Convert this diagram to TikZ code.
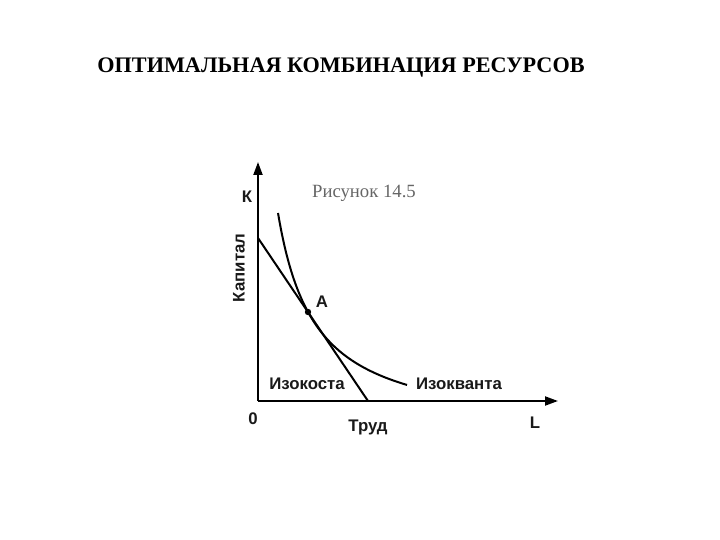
\documentclass[tikz,border=0pt]{standalone}
\usepackage{fontspec}
\setmainfont{Liberation Serif}
\newfontfamily\lsans{Liberation Sans}
\usetikzlibrary{arrows.meta}
\begin{document}
\begin{tikzpicture}[x=1pt,y=-1pt,
  axis/.style={line width=2pt,-{Triangle[length=13pt,width=9pt]}},
  curve/.style={line width=2pt},
  lbl/.style={font=\lsans\bfseries\fontsize{16.8}{18}\selectfont,text=black!90,inner sep=0pt}]
\useasboundingbox (0,0) rectangle (720,540);
\node[font=\bfseries\fontsize{22.2}{24}\selectfont,inner sep=0pt] (title) at (341,68) {ОПТИМАЛЬНАЯ КОМБИНАЦИЯ РЕСУРСОВ};
\coordinate (o) at (258,401);
\coordinate (ytop) at (258,162);
\coordinate (xend) at (558,401);
\draw[axis] (o) -- (ytop);
\draw[axis] (o) -- (xend);
\coordinate (c1) at (258,238);
\coordinate (c2) at (368,401);
\draw[curve] (c1) -- (c2);
\draw[curve] plot[domain=278:407,samples=80] (\x,{434.4-8215/(\x-240.9)});
\fill (308,312) circle (3.2pt);
\node[lbl] (A) at (322,302) {А};
\node[lbl] (K) at (247,197) {К};
\node[lbl,rotate=90] (kap) at (239,268) {Капитал};
\node[font=\fontsize{18.7}{20}\selectfont,text=black!60,inner sep=0pt] (fig) at (364,193) {Рисунок 14.5};
\node[lbl] (iso1) at (307,384) {Изокоста};
\node[lbl] (iso2) at (459,384) {Изокванта};
\node[lbl] (zero) at (253,419) {0};
\node[lbl] (trud) at (368,427) {Труд};
\node[lbl] (L) at (535,423) {L};
\end{tikzpicture}
\end{document}
